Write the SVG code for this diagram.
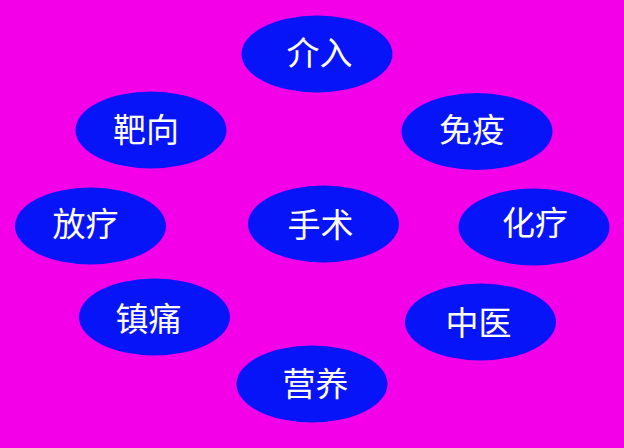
<svg xmlns="http://www.w3.org/2000/svg" width="624" height="448" viewBox="0 0 624 448">
<style>
.n ellipse{fill:#0814F8;}
.n text{fill:#ffffff;font-family:"Noto Sans CJK SC","Noto Sans",sans-serif;font-size:33px;text-anchor:middle;dominant-baseline:central;}
</style>
<rect width="624" height="448" fill="#F400E8"/>
<g id="connectors"></g>
<g id="n-jieru" class="n"><ellipse cx="317" cy="54" rx="75.5" ry="38.5"/><text x="319.5" y="51">介入</text></g>
<g id="n-baxiang" class="n"><ellipse cx="151" cy="130" rx="75.5" ry="38.5"/><text x="146" y="128">靶向</text></g>
<g id="n-mianyi" class="n"><ellipse cx="477" cy="131.5" rx="75.5" ry="38.5"/><text x="472" y="128">免疫</text></g>
<g id="n-fangliao" class="n"><ellipse cx="90.5" cy="226" rx="75.5" ry="38.5"/><text x="85.5" y="222">放疗</text></g>
<g id="n-shoushu" class="n"><ellipse cx="323.5" cy="224" rx="75.5" ry="38.5"/><text x="320.5" y="223">手术</text></g>
<g id="n-hualiao" class="n"><ellipse cx="534" cy="227" rx="75.5" ry="38.5"/><text x="535" y="221">化疗</text></g>
<g id="n-zhentong" class="n"><ellipse cx="154.5" cy="317" rx="75.5" ry="38.5"/><text x="148.5" y="316.5">镇痛</text></g>
<g id="n-zhongyi" class="n"><ellipse cx="480.5" cy="322" rx="75.5" ry="38.5"/><text x="478.5" y="321">中医</text></g>
<g id="n-yingyang" class="n"><ellipse cx="312" cy="384" rx="75.5" ry="38.5"/><text x="315.5" y="382">营养</text></g>
</svg>
